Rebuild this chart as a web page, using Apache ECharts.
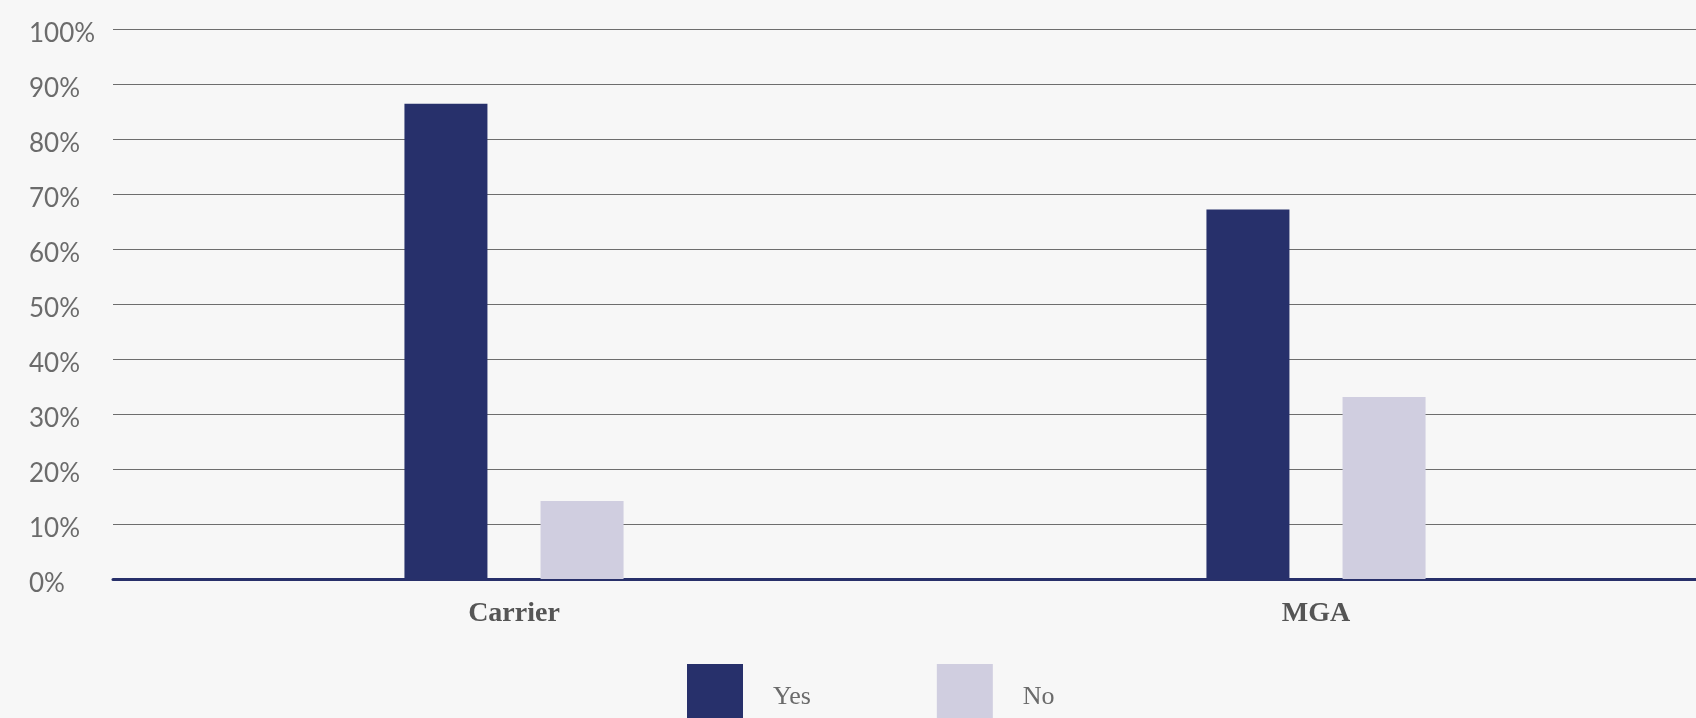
<!DOCTYPE html>
<html><head><meta charset="utf-8">
<script src="https://cdn.jsdelivr.net/npm/echarts@6/dist/echarts.min.js"></script>
<style>html,body{margin:0;padding:0;background:#f7f7f7;}#c{width:1696px;height:718px;}</style>
</head><body><div id="c"></div>
<script>
const categories = ['Carrier', 'MGA'];
const yesValues = [86.4, 67.2];
const noValues = [14.2, 33.1];
const seriesNames = ['Yes', 'No'];

const chart = echarts.init(document.getElementById('c'), null, {renderer: 'canvas'});
chart.setOption({
  backgroundColor: '#f7f7f7',
  animation: false,
  grid: {left: 113, width: 1604, top: 29, bottom: 139, containLabel: false, outerBoundsMode: 'none'},
  legend: {
    left: 687, top: 664, padding: 0, itemWidth: 56, itemHeight: 56, itemGap: 126,
    icon: 'rect',
    data: seriesNames,
    formatter: '{t|{name}}',
    textStyle: {
      fontFamily: 'Liberation Serif', fontSize: 26, color: '#6b6b6b', padding: [0, 0, 0, 25],
      rich: {t: {fontFamily: 'Liberation Serif', fontSize: 26, color: '#6b6b6b', padding: [10, 0, 0, 0]}}
    }
  },
  xAxis: {
    type: 'category', data: categories,
    axisTick: {show: false},
    axisLine: {lineStyle: {color: '#28306a', width: 3}},
    axisLabel: {margin: 21, fontFamily: 'Liberation Serif', fontWeight: 'bold', fontSize: 28, color: '#555'}
  },
  yAxis: {
    type: 'value', min: 0, max: 100, interval: 10,
    axisLine: {show: false}, axisTick: {show: false},
    splitLine: {lineStyle: {color: '#6d6d6d', width: 1}},
    axisLabel: {
      align: 'left', margin: 84, formatter: '{v|{value}%}',
      rich: {v: {fontFamily: 'Lato', fontSize: 26, color: '#6b6b6b', padding: [10, 0, 0, 0]}}
    }
  },
  series: [
    {name: seriesNames[0], type: 'bar', data: yesValues, barWidth: 83, barGap: '64%', itemStyle: {color: '#27306b'}},
    {name: seriesNames[1], type: 'bar', data: noValues, barWidth: 83, itemStyle: {color: '#d0cee0'}}
  ]
});
</script></body></html>
